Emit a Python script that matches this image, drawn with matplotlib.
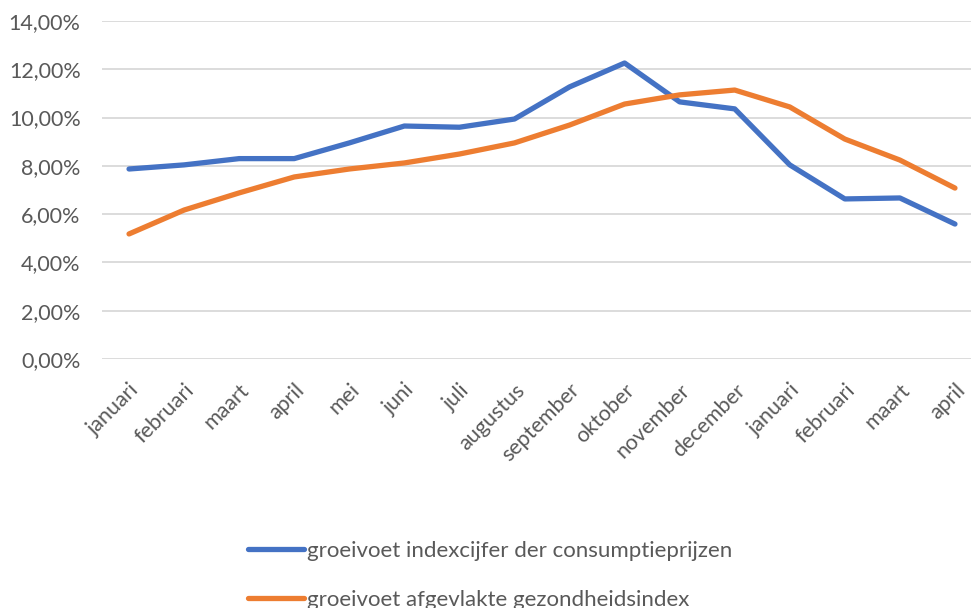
import matplotlib.pyplot as plt
from matplotlib.ticker import FuncFormatter

# Months (two consecutive years, Jan -> Apr of next year)
months = ['januari', 'februari', 'maart', 'april', 'mei', 'juni', 'juli',
          'augustus', 'september', 'oktober', 'november', 'december',
          'januari', 'februari', 'maart', 'april']

# Growth rates in percent
cpi = [7.87, 8.04, 8.30, 8.30, 8.95, 9.65, 9.60, 9.94,
       11.27, 12.26, 10.65, 10.36, 8.04, 6.63, 6.67, 5.59]
health = [5.18, 6.17, 6.88, 7.54, 7.87, 8.12, 8.49, 8.95,
          9.69, 10.56, 10.94, 11.14, 10.44, 9.11, 8.24, 7.08]

labels = ['groeivoet indexcijfer der consumptieprijzen',
          'groeivoet afgevlakte gezondheidsindex']

plt.rcParams['font.family'] = ['Lato', 'DejaVu Sans']
text_col = '#595959'

W, H = 971, 608
fig = plt.figure(figsize=(W / 100, H / 100), dpi=100)
# axes placed in pixel terms; right edge runs past the figure like in the reference
left, right, top, bottom = 101.5, 982.5, 21, 359
ax = fig.add_axes([left / W, (H - bottom) / H, (right - left) / W, (bottom - top) / H])

x = range(len(months))
ax.plot(x, cpi, color='#4472C4', lw=3.8, solid_capstyle='round',
        solid_joinstyle='round', label=labels[0], zorder=3)
ax.plot(x, health, color='#ED7D31', lw=3.8, solid_capstyle='round',
        solid_joinstyle='round', label=labels[1], zorder=3)

ax.set_xlim(-0.5, len(months) - 0.5)
ax.set_ylim(0, 14)
ax.set_yticks(range(0, 15, 2))
ax.yaxis.set_major_formatter(FuncFormatter(lambda v, p: f'{v:.2f}%'.replace('.', ',')))
ax.grid(axis='y', color='#D9D9D9', lw=1.3)
ax.set_axisbelow(True)
for s in ax.spines.values():
    s.set_visible(False)
ax.tick_params(length=0, labelsize=15.5, labelcolor=text_col)
ax.tick_params(axis='y', pad=15)
ax.set_xticks(list(x))
ax.set_xticklabels(months, rotation=45, ha='right', rotation_mode='anchor')
ax.tick_params(axis='x', pad=15)

fig.legend(loc='upper left', bbox_to_anchor=(248 / W, (H - 541) / H),
           frameon=False, fontsize=16, labelcolor=text_col,
           handlelength=2.5, handletextpad=0.15, labelspacing=1.3,
           borderpad=0, borderaxespad=0)

fig.savefig('out.png', dpi=100)
